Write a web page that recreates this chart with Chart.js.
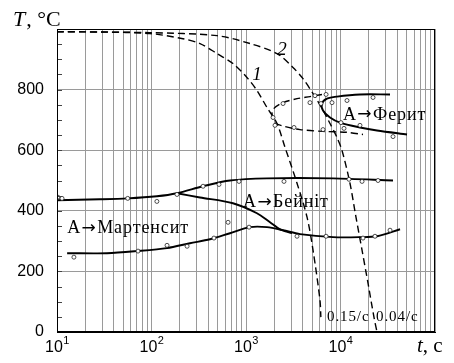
<!DOCTYPE html>
<html>
<head>
<meta charset="utf-8">
<script src="https://cdn.jsdelivr.net/npm/chart.js@4.4.1/dist/chart.umd.min.js"></script>
<style>
html, body { margin: 0; padding: 0; background: #fff; }
</style>
</head>
<body>
<canvas id="chart" width="454" height="363"></canvas>
<script>
/* CCT diagram - time (s, log) vs temperature (C) */

var xLabels = [10, 100, 1000, 10000];
var yLabels = [0, 200, 400, 600, 800];

// cooling curves 1 and 2 (dashed)
var cooling1 = [[10, 991], [30, 990], [96, 985], [215, 968], [326, 952], [493, 919], [728, 886],
    [1023, 840], [1306, 797], [1667, 741], [2128, 688], [2590, 609], [3467, 491], [4427, 379],
    [5120, 270], [6066, 105], [6195, 49]];
var cooling2 = [[10, 991], [96, 988], [493, 978], [1102, 952], [2128, 919], [3141, 873], [4009, 836],
    [5120, 787], [6368, 738], [7745, 688], [9183, 642], [10380, 599], [12590, 491], [14580, 379],
    [16900, 270], [19550, 161], [22600, 49], [24330, 0]];

// austenite -> ferrite start (dashed) and solid line
var ferriteStart = [[6368, 784], [4753, 777], [3467, 770], [2466, 757], [1977, 738], [1884, 718],
    [2028, 691], [2590, 678], [3725, 668], [6531, 662], [11720, 659], [17310, 652]];
var ferriteEnd = [[33420, 784], [16070, 784], [9183, 777], [7194, 770], [6368, 754], [6531, 731],
    [7745, 708], [9885, 691], [16070, 675], [24330, 665], [50580, 652]];

// bainite and martensite lines
var bainiteUpper = [[10, 435], [28.5, 438], [56, 441], [114, 448], [186, 458], [351, 481], [677, 500],
    [1667, 507], [8337, 507], [35960, 500]];
var bainiteDown = [[186, 458], [326, 444], [728, 425], [1306, 392], [1795, 362], [2291, 339], [3070, 326]];
var martensite = [[12.8, 260], [33.8, 260], [70, 267], [146, 277], [255, 293], [416, 306], [677, 326],
    [1102, 346], [1667, 346], [2466, 336], [3725, 323], [8337, 313], [16070, 313], [24330, 316],
    [42660, 339]];

// measured points (open circles)
var pointsBainite = [[10.2, 445], [11.3, 441], [56, 441], [114, 431], [186, 454], [351, 481], [518, 487],
    [843, 497], [2524, 497], [12300, 504], [16900, 497], [24950, 500]];
var pointsLower = [[15.1, 247], [72, 267], [146, 286], [238, 283], [458, 310], [646, 362], [1077, 346],
    [3467, 316], [7035, 316], [17300, 310], [23170, 316], [33420, 336]];
var pointsFerrite = [[2466, 754], [4753, 757], [5370, 780], [7035, 784], [6220, 754], [8130, 757],
    [11720, 764], [22090, 774], [1932, 708], [2028, 682], [3221, 675], [6531, 668], [10120, 691],
    [10890, 672], [16070, 682], [35960, 645]];

function toPts(arr) {
    return arr.map(function(p) { return { x: p[0], y: p[1] }; });
}

function lineSet(data, dashed) {
    return {
        data: toPts(data),
        showLine: true,
        borderColor: '#000',
        borderWidth: dashed ? 1.4 : 1.9,
        borderDash: dashed ? [7, 4] : [],
        pointRadius: 0,
        tension: 0.3,
        fill: false,
        order: 2
    };
}

var serif = "'Liberation Serif', 'DejaVu Serif', serif";
var arrowFont = "'DejaVu Sans', sans-serif";
var sans = "'Liberation Sans', Arial, sans-serif";

// texts placed in data coordinates
var notes = [
    { text: 'А→Ферит', t: 10620, T: 701, size: 18 },
    { text: 'А→Бейніт', t: 929, T: 412, size: 18 },
    { text: 'А→Мартенсит', t: 12.8, T: 326, size: 18 },
    { text: '0.15/с', t: 7194, T: 36, size: 15 },
    { text: '0.04/с', t: 23770, T: 36, size: 15 }
];
var curveNums = [
    { text: '1', t: 1306, T: 848 },
    { text: '2', t: 2404, T: 930 }
];

// draws text, the arrow glyph comes from another font (serif arrow is tiny)
function drawNote(ctx, n, x, y) {
    var parts = n.text.split('→');
    ctx.textAlign = 'left';
    ctx.textBaseline = 'alphabetic';
    ctx.letterSpacing = '0.9px';
    parts.forEach(function(p, i) {
        ctx.font = n.size + 'px ' + serif;
        ctx.fillText(p, x, y);
        x += ctx.measureText(p).width;
        if (i < parts.length - 1) {
            ctx.font = (n.size - 1) + 'px ' + arrowFont;
            ctx.fillText('→', x + 0.5, y - 0.5);
            x += ctx.measureText('→').width + 1;
        }
    });
    ctx.letterSpacing = '0px';
}

var decor = {
    id: 'decor',
    afterDraw: function(chart) {
        var ctx = chart.ctx, a = chart.chartArea;
        var xs = chart.scales.x, ys = chart.scales.y;
        ctx.save();

        // small inner ticks on the left axis
        ctx.strokeStyle = '#444';
        ctx.lineWidth = 1;
        for (var v = 50; v < 1000; v += 50) {
            var py = Math.round(ys.getPixelForValue(v)) + 0.5;
            ctx.beginPath();
            ctx.moveTo(a.left, py);
            ctx.lineTo(a.left + 5, py);
            ctx.stroke();
        }

        // frame
        ctx.strokeStyle = '#000';
        ctx.strokeRect(Math.round(a.left) + 0.5, Math.round(a.top) + 0.5,
            Math.round(a.right - a.left) - 1, Math.round(a.bottom - a.top) - 1);

        // x tick labels 10^n
        ctx.fillStyle = '#000';
        ctx.textBaseline = 'alphabetic';
        xLabels.forEach(function(val) {
            var px = xs.getPixelForValue(val);
            var e = String(Math.round(Math.log10(val)));
            ctx.font = '16px ' + sans;
            var w1 = ctx.measureText('10').width;
            ctx.font = '11px ' + sans;
            var w2 = ctx.measureText(e).width;
            var x0 = px - (w1 + w2) / 2;
            ctx.textAlign = 'left';
            ctx.font = '16px ' + sans;
            ctx.fillText('10', x0, a.bottom + 20);
            ctx.font = '11px ' + sans;
            ctx.fillText(e, x0 + w1 + 0.5, a.bottom + 12);
        });

        // annotations
        notes.forEach(function(n) {
            drawNote(ctx, n, xs.getPixelForValue(n.t), ys.getPixelForValue(n.T));
        });
        curveNums.forEach(function(n) {
            ctx.font = 'italic 19px ' + serif;
            ctx.textAlign = 'center';
            ctx.textBaseline = 'middle';
            ctx.fillText(n.text, xs.getPixelForValue(n.t), ys.getPixelForValue(n.T));
        });

        // axis titles
        ctx.textBaseline = 'alphabetic';
        ctx.textAlign = 'left';
        ctx.font = 'italic 22px ' + serif;
        ctx.fillText('T', 13, 26);
        var wT = ctx.measureText('T').width;
        ctx.font = '22px ' + serif;
        ctx.fillText(', °C', 13 + wT + 1, 26);

        ctx.font = 'italic 21px ' + serif;
        ctx.fillText('t', 417, 352);
        var wt = ctx.measureText('t').width;
        ctx.font = '21px ' + serif;
        ctx.fillText(', с', 417 + wt, 352);

        ctx.restore();
    }
};

function markerSet(data) {
    return {
        data: toPts(data),
        showLine: false,
        pointRadius: 2,
        pointStyle: 'circle',
        pointBorderWidth: 0.8,
        pointBorderColor: '#222',
        pointBackgroundColor: '#fff',
        order: 1
    };
}

new Chart(document.getElementById('chart'), {
    type: 'scatter',
    data: {
        datasets: [
            markerSet(pointsBainite),
            markerSet(pointsLower),
            markerSet(pointsFerrite),
            lineSet(cooling1, true),
            lineSet(cooling2, true),
            lineSet(ferriteStart, true),
            lineSet(ferriteEnd, false),
            lineSet(bainiteUpper, false),
            lineSet(bainiteDown, false),
            lineSet(martensite, false)
        ]
    },
    options: {
        responsive: false,
        animation: false,
        events: [],
        layout: { padding: { top: 29, right: 19, bottom: 0, left: 0 } },
        plugins: { legend: { display: false }, tooltip: { enabled: false } },
        scales: {
            x: {
                type: 'logarithmic',
                min: 10,
                max: 100000,
                afterBuildTicks: function(scale) {
                    var t = [];
                    for (var e = 1; e < 5; e++) {
                        for (var m = 1; m < 10; m++) t.push({ value: m * Math.pow(10, e) });
                    }
                    t.push({ value: 100000 });
                    scale.ticks = t;
                },
                afterFit: function(scale) { scale.height = 31; },
                ticks: { display: false },
                grid: { color: '#9a9a9a', lineWidth: 1, drawTicks: false },
                border: { display: true, color: '#000' }
            },
            y: {
                min: 0,
                max: 1000,
                afterBuildTicks: function(scale) {
                    scale.ticks = yLabels.concat([1000]).map(function(v) { return { value: v }; });
                },
                afterFit: function(scale) { scale.width = 57; },
                ticks: {
                    padding: 13,
                    color: '#000',
                    font: { family: sans, size: 16 },
                    callback: function(v) { return v === 1000 ? '' : v; }
                },
                grid: {
                    drawTicks: false,
                    lineWidth: 1,
                    color: function(c) {
                        var v = c.tick && c.tick.value;
                        return (v === 0 || v === 1000) ? 'rgba(0,0,0,0)' : '#9a9a9a';
                    }
                },
                border: { display: true, color: '#000' }
            }
        }
    },
    plugins: [decor]
});
</script>
</body>
</html>
